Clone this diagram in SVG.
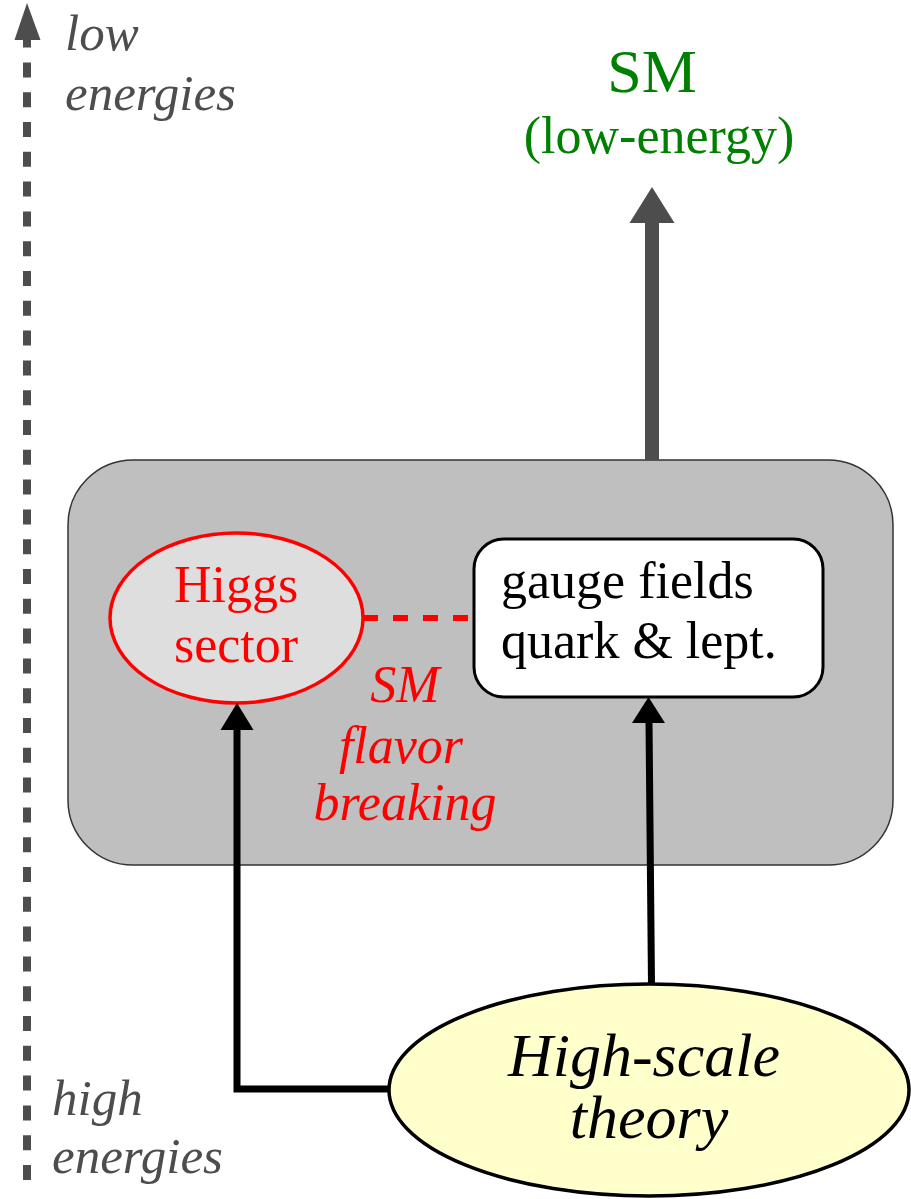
<svg xmlns="http://www.w3.org/2000/svg" width="911" height="1199" viewBox="0 0 911 1199">
<style>
  text { font-family: 'Liberation Serif', 'DejaVu Serif', 'Noto Serif', serif; }
  .axis-txt { font-size: 51px; font-style: italic; fill: #4d4d4d; }
  .red-txt { font-size: 52px; fill: #ff0000; }
  .blk-txt { font-size: 52px; fill: #000000; }
  .green-txt { fill: #008000; }
  .blk-line { fill: none; stroke: #000000; stroke-width: 7; }
  .blk-head { fill: #000000; }
  .gray-head { fill: #4d4d4d; }
</style>
<rect width="911" height="1199" fill="#ffffff"/>

<g id="axis">
  <path d="M27,1180 L27,40" fill="none" stroke="#4d4d4d" stroke-width="8" stroke-dasharray="15 14.8"/>
  <polygon class="gray-head" points="27,3 14.5,40 40.5,40"/>
  <text class="axis-txt" font-family="Liberation Serif, DejaVu Serif, serif" x="65" y="50">low</text>
  <text class="axis-txt" font-family="Liberation Serif, DejaVu Serif, serif" x="65" y="110">energies</text>
  <text class="axis-txt" font-family="Liberation Serif, DejaVu Serif, serif" x="52" y="1115">high</text>
  <text class="axis-txt" font-family="Liberation Serif, DejaVu Serif, serif" x="52" y="1173">energies</text>
</g>

<g id="sm-label">
  <text class="green-txt" font-family="Liberation Serif, DejaVu Serif, serif" x="652" y="92" font-size="62" text-anchor="middle">SM</text>
  <text class="green-txt" font-family="Liberation Serif, DejaVu Serif, serif" x="659" y="153" font-size="52" text-anchor="middle">(low-energy)</text>
</g>

<g id="sm-box">
  <rect x="68" y="460" width="825" height="405" rx="65" ry="65" fill="#bfbfbf" stroke="#333333" stroke-width="1.5"/>
</g>

<g id="higgs">
  <ellipse cx="236.5" cy="618" rx="126.5" ry="85" fill="#dedede" stroke="#ff0000" stroke-width="3.5"/>
  <text class="red-txt" font-family="Liberation Serif, DejaVu Serif, serif" x="236" y="602" text-anchor="middle">Higgs</text>
  <text class="red-txt" font-family="Liberation Serif, DejaVu Serif, serif" x="236" y="662" text-anchor="middle">sector</text>
</g>

<g id="gauge">
  <rect x="474" y="539" width="349" height="158" rx="30" ry="30" fill="#ffffff" stroke="#000000" stroke-width="3"/>
  <text class="blk-txt" font-family="Liberation Serif, DejaVu Serif, serif" x="501" y="598">gauge fields</text>
  <text class="blk-txt" font-family="Liberation Serif, DejaVu Serif, serif" x="501" y="658">quark &amp; lept.</text>
</g>

<g id="flavor-label">
  <text class="red-txt" font-family="Liberation Serif, DejaVu Serif, serif" font-style="italic" x="405" y="702" text-anchor="middle">SM</text>
  <text class="red-txt" font-family="Liberation Serif, DejaVu Serif, serif" font-style="italic" x="401" y="763" text-anchor="middle">flavor</text>
  <text class="red-txt" font-family="Liberation Serif, DejaVu Serif, serif" font-style="italic" x="405" y="820" text-anchor="middle">breaking</text>
</g>

<g id="high-scale">
  <ellipse cx="649" cy="1090" rx="260" ry="106" fill="#ffffcc" stroke="#000000" stroke-width="3.5"/>
  <text font-family="Liberation Serif, DejaVu Serif, serif" x="644" y="1076" font-size="62" font-style="italic" text-anchor="middle" fill="#000000">High-scale</text>
  <text font-family="Liberation Serif, DejaVu Serif, serif" x="649" y="1138" font-size="62" font-style="italic" text-anchor="middle" fill="#000000">theory</text>
</g>

<g id="connectors">
  <line x1="652" y1="460" x2="652" y2="222" stroke="#4d4d4d" stroke-width="14"/>
  <polygon class="gray-head" points="652,187 629.5,223 674.5,223"/>
  <path d="M363,618 L474,618" fill="none" stroke="#ff0000" stroke-width="6" stroke-dasharray="15 15"/>
  <path class="blk-line" d="M389,1089 L237,1089 L237,728"/>
  <polygon class="blk-head" points="237,703 220.5,730 253.5,730"/>
  <path class="blk-line" d="M651.5,985 L649,721"/>
  <polygon class="blk-head" points="648.5,697 632,723 665,723"/>
</g>
</svg>
